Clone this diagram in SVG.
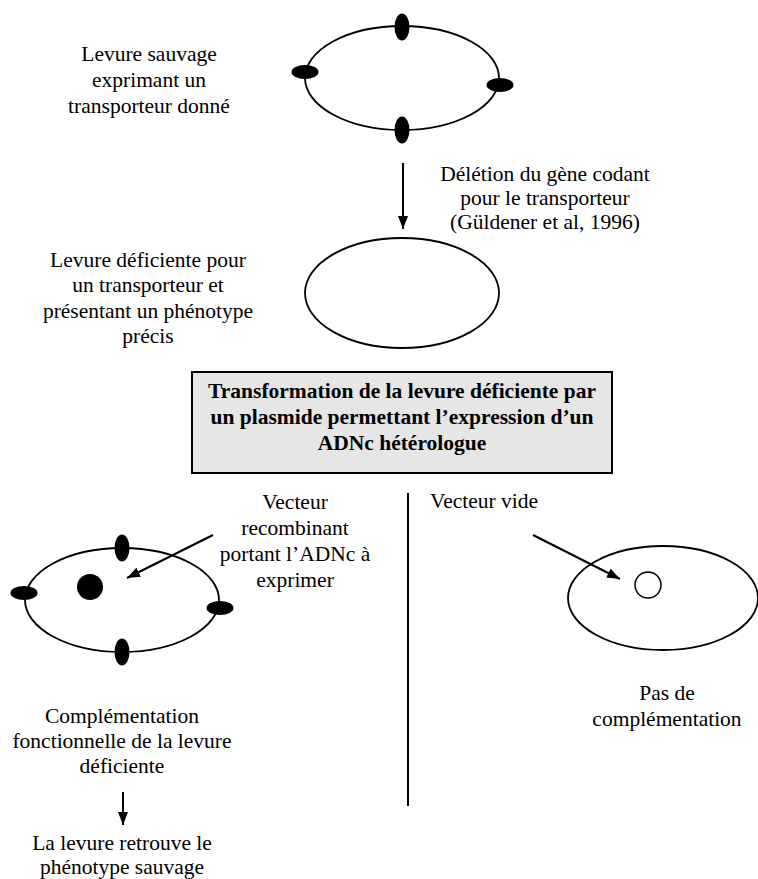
<svg xmlns="http://www.w3.org/2000/svg" width="758" height="879" viewBox="0 0 758 879">
<style>
text{font-family:"Liberation Serif","Times New Roman",serif;font-size:21.5px;fill:#000;text-anchor:middle}
.b{font-weight:bold}
.l{text-anchor:start}
.cell{fill:none;stroke:#000;stroke-width:1.8}
.blob{fill:#000}
.conn{stroke:#000;stroke-width:2;fill:none}
</style>
<defs>
<marker id="ah" viewBox="0 0 13 10" refX="13" refY="5" markerWidth="13" markerHeight="10" markerUnits="userSpaceOnUse" orient="auto">
<path d="M0,0 L13,5 L0,10 z" fill="#000"/>
</marker>
</defs>
<rect width="758" height="879" fill="#fff"/>

<g id="wild">
<ellipse class="cell" cx="402" cy="78" rx="97" ry="52"/>
<ellipse class="blob" cx="402" cy="27" rx="7.5" ry="13.5"/>
<ellipse class="blob" cx="305" cy="72" rx="13.5" ry="7"/>
<ellipse class="blob" cx="500" cy="85" rx="13.5" ry="7"/>
<ellipse class="blob" cx="402" cy="130" rx="7.5" ry="13.5"/>
</g>
<g id="wild-label">
<text x="149" y="61">Levure sauvage</text>
<text x="149" y="87">exprimant un</text>
<text x="149" y="113">transporteur donné</text>
</g>
<g id="deletion-label">
<text x="545" y="181">Délétion du gène codant</text>
<text x="545" y="205">pour le transporteur</text>
<text x="545" y="229">(Güldener et al, 1996)</text>
</g>
<g id="deficient">
<ellipse class="cell" cx="402" cy="293" rx="97" ry="55"/>
</g>
<g id="deficient-label">
<text x="148" y="267">Levure déficiente pour</text>
<text x="148" y="292">un transporteur et</text>
<text x="148" y="318">présentant un phénotype</text>
<text x="148" y="343">précis</text>
</g>
<g id="transformation">
<rect x="192" y="372" width="420" height="101" fill="#e6e6e6" stroke="#000" stroke-width="2"/>
<text class="b" x="402" y="398">Transformation de la levure déficiente par</text>
<text class="b" x="402" y="424">un plasmide permettant l’expression d’un</text>
<text class="b" x="402" y="450">ADNc hétérologue</text>
</g>
<g id="recombinant-label">
<text x="295" y="509">Vecteur</text>
<text x="295" y="535">recombinant</text>
<text x="295" y="561">portant l’ADNc à</text>
<text x="295" y="587">exprimer</text>
</g>
<g id="empty-label">
<text class="l" x="430" y="508">Vecteur vide</text>
</g>
<g id="complemented">
<ellipse class="cell" cx="122" cy="600" rx="97" ry="52"/>
<ellipse class="blob" cx="122" cy="548" rx="7.5" ry="13.5"/>
<ellipse class="blob" cx="24" cy="593" rx="13.5" ry="7"/>
<ellipse class="blob" cx="220" cy="608" rx="13.5" ry="7"/>
<ellipse class="blob" cx="122" cy="652" rx="7.5" ry="13.5"/>
<circle cx="90" cy="587" r="13" fill="#000"/>
</g>
<g id="not-complemented">
<ellipse class="cell" cx="663" cy="598" rx="95" ry="52"/>
<circle cx="648" cy="585" r="13" fill="none" stroke="#000" stroke-width="1.5"/>
</g>
<g id="no-compl-label">
<text x="667" y="700">Pas de</text>
<text x="667" y="726">complémentation</text>
</g>
<g id="compl-label">
<text x="122" y="723">Complémentation</text>
<text x="122" y="748">fonctionnelle de la levure</text>
<text x="122" y="773">déficiente</text>
</g>
<g id="result-label">
<text x="122" y="850">La levure retrouve le</text>
<text x="122" y="874">phénotype sauvage</text>
</g>
<g id="connectors">
<line class="conn" x1="403" y1="163" x2="403" y2="229" marker-end="url(#ah)"/>
<line class="conn" x1="213" y1="535" x2="127" y2="578" marker-end="url(#ah)"/>
<line class="conn" x1="533" y1="535" x2="620" y2="579" marker-end="url(#ah)"/>
<line class="conn" x1="123" y1="792" x2="123" y2="825" marker-end="url(#ah)"/>
<line class="conn" x1="408" y1="493" x2="408" y2="806"/>
</g>
</svg>
